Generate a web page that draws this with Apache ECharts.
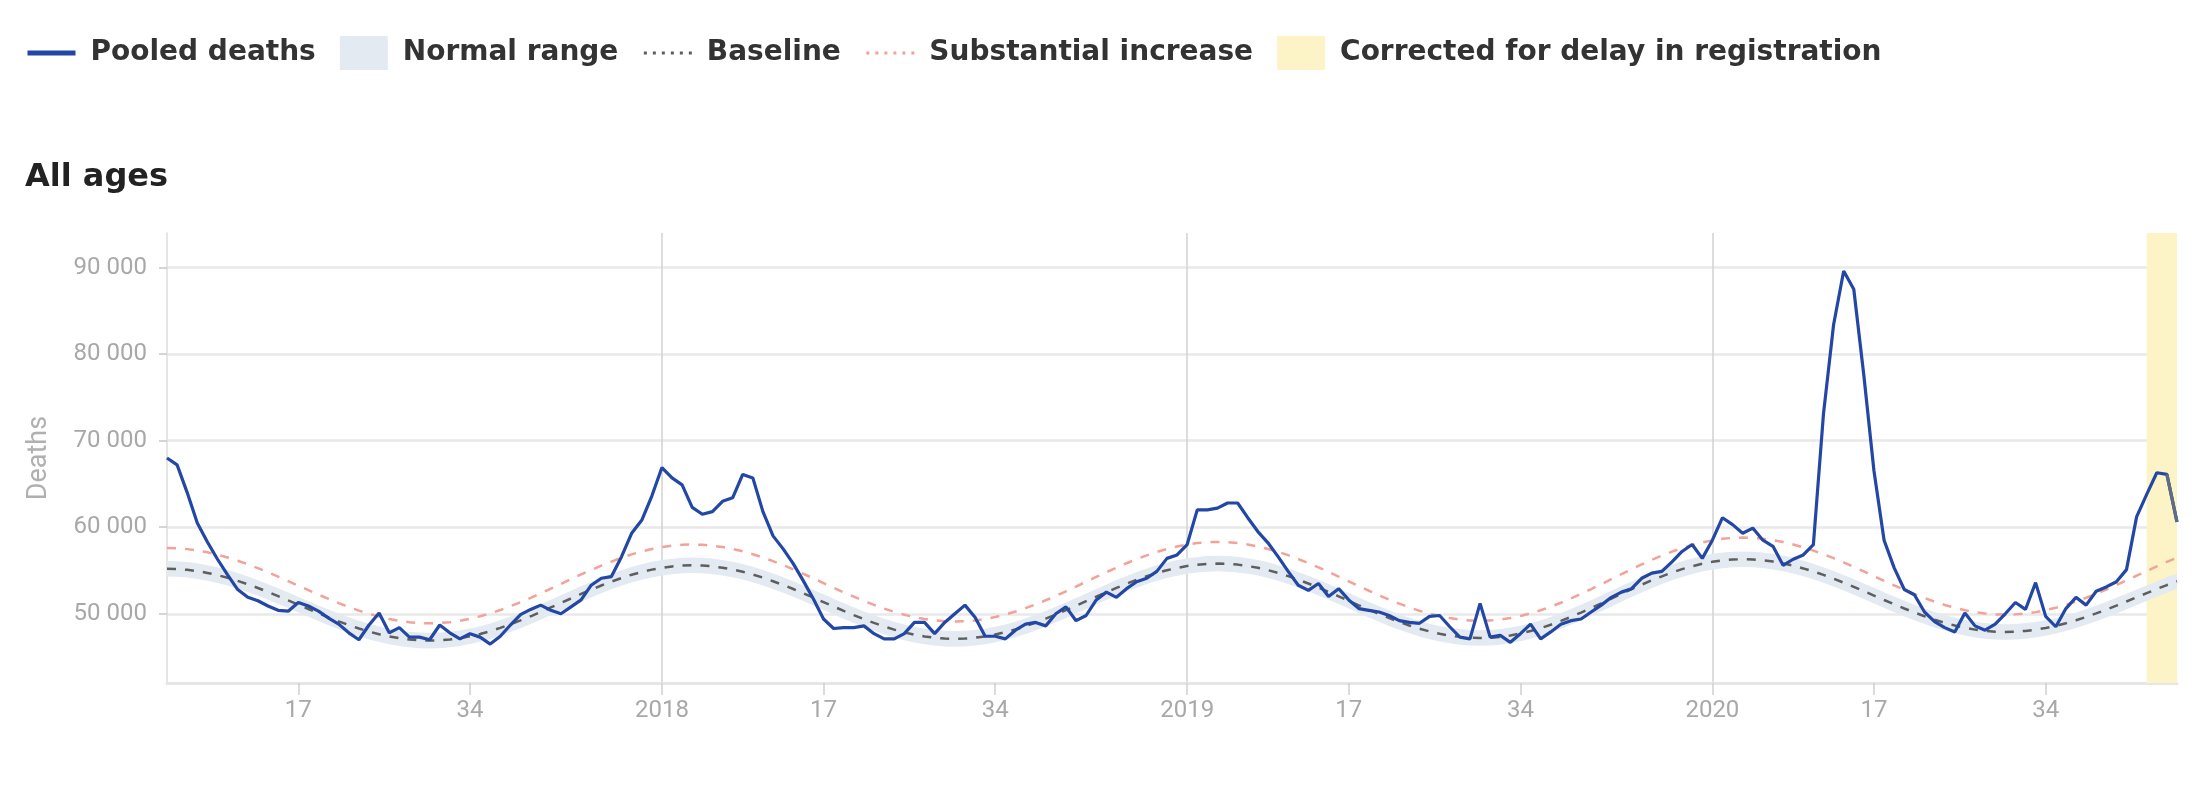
<!DOCTYPE html>
<html><head><meta charset="utf-8">
<script src="https://cdn.jsdelivr.net/npm/echarts@6/dist/echarts.min.js"></script>
<style>html,body{margin:0;padding:0;background:#fff}#c{width:2200px;height:796px}</style>
</head><body><div id="c"></div>
<script>
// ISO weeks shown: [year, first week, last week]
const yearWeeks = [[2017, 4, 52], [2018, 1, 52], [2019, 1, 52], [2020, 1, 47]];
const labelWeeks = [1, 17, 34];
const yTicks = [50000, 60000, 70000, 80000, 90000];
const correctedRange = ['2020-44', '2020-47'];
const tailStart = '2020-46';

// Pooled deaths
const deaths2017 = [68000, 67200, 64000, 60500, 58300, 56300, 54500, 52800, 51900, 51500, 50900, 50400, 50300, 51300, 50900, 50300, 49500, 48800, 47800, 47000, 48700, 50100, 47800, 48400, 47300, 47300, 47000, 48700, 47800, 47100, 47700, 47300, 46500, 47400, 48700, 49900, 50500, 51000, 50400, 50000, 50800, 51600, 53300, 54100, 54300, 56600, 59300, 60800, 63600];
const deaths2018 = [66900, 65700, 64900, 62300, 61500, 61800, 63000, 63400, 66100, 65700, 61800, 59000, 57500, 55800, 53800, 51700, 49400, 48300, 48400, 48400, 48600, 47700, 47100, 47100, 47700, 49000, 49000, 47700, 49000, 50000, 51000, 49600, 47400, 47400, 47100, 48100, 48800, 49000, 48600, 50000, 50800, 49200, 49800, 51600, 52500, 51900, 52900, 53700, 54100, 54900, 56400, 56800];
const deaths2019 = [58000, 62000, 62000, 62200, 62800, 62800, 61100, 59500, 58200, 56600, 54900, 53300, 52700, 53500, 52000, 52900, 51600, 50600, 50400, 50200, 49800, 49200, 49000, 48900, 49700, 49800, 48500, 47300, 47100, 51200, 47300, 47500, 46700, 47700, 48800, 47100, 47900, 48800, 49200, 49400, 50200, 51000, 51900, 52500, 52900, 54100, 54700, 54900, 56000, 57200, 58000, 56400];
const deaths2020 = [58500, 61100, 60300, 59300, 59900, 58500, 57800, 55600, 56300, 56800, 58000, 73100, 83400, 89600, 87500, 77500, 66500, 58500, 55300, 52800, 52200, 50200, 49100, 48400, 47900, 50100, 48600, 48100, 48800, 50000, 51300, 50500, 53600, 49700, 48500, 50600, 51900, 51000, 52600, 53100, 53700, 55100, 61200, 63800, 66300, 66100, 60600];

// Baseline
const baseline2017 = [55200, 55170, 55080, 54930, 54720, 54470, 54160, 53800, 53410, 52980, 52520, 52040, 51550, 51050, 50550, 50060, 49580, 49120, 48690, 48300, 47940, 47630, 47380, 47170, 47020, 46930, 46900, 46930, 47030, 47180, 47400, 47670, 47990, 48370, 48780, 49230, 49710, 50210, 50730, 51250, 51770, 52290, 52790, 53270, 53720, 54130, 54510, 54830, 55100];
const baseline2018 = [55320, 55470, 55570, 55600, 55570, 55480, 55320, 55110, 54850, 54530, 54170, 53760, 53330, 52860, 52370, 51860, 51350, 50840, 50330, 49840, 49370, 48940, 48530, 48170, 47850, 47590, 47380, 47220, 47130, 47100, 47130, 47230, 47380, 47600, 47870, 48190, 48570, 48980, 49430, 49910, 50410, 50930, 51450, 51970, 52490, 52990, 53470, 53920, 54330, 54710, 55030, 55300];
const baseline2019 = [55520, 55670, 55770, 55800, 55770, 55680, 55520, 55310, 55040, 54720, 54350, 53940, 53500, 53020, 52530, 52020, 51500, 50980, 50470, 49980, 49500, 49060, 48650, 48280, 47960, 47690, 47480, 47330, 47230, 47200, 47230, 47330, 47500, 47720, 48010, 48340, 48730, 49170, 49640, 50140, 50660, 51200, 51750, 52300, 52840, 53360, 53860, 54330, 54770, 55160, 55490, 55780];
const baseline2020 = [56000, 56170, 56270, 56300, 56270, 56180, 56030, 55820, 55560, 55240, 54890, 54490, 54050, 53590, 53110, 52610, 52100, 51590, 51090, 50610, 50150, 49710, 49310, 48960, 48640, 48380, 48170, 48020, 47930, 47900, 47930, 48020, 48160, 48360, 48610, 48910, 49250, 49630, 50040, 50480, 50940, 51420, 51900, 52380, 52860, 53320, 53760];

// Substantial increase threshold
const substantial2017 = [57600, 57570, 57470, 57320, 57100, 56830, 56510, 56130, 55720, 55270, 54790, 54290, 53770, 53250, 52730, 52210, 51710, 51230, 50780, 50370, 49990, 49670, 49400, 49180, 49030, 48930, 48900, 48930, 49030, 49200, 49420, 49710, 50040, 50430, 50870, 51340, 51840, 52360, 52900, 53450, 54000, 54540, 55060, 55560, 56030, 56470, 56860, 57190, 57480];
const substantial2018 = [57700, 57870, 57970, 58000, 57970, 57870, 57710, 57490, 57210, 56880, 56500, 56080, 55620, 55130, 54620, 54090, 53550, 53010, 52480, 51970, 51480, 51020, 50600, 50220, 49890, 49610, 49390, 49230, 49130, 49100, 49130, 49230, 49400, 49630, 49910, 50260, 50650, 51090, 51560, 52070, 52600, 53150, 53700, 54250, 54800, 55330, 55840, 56310, 56750, 57140, 57490, 57770];
const substantial2019 = [58000, 58170, 58270, 58300, 58270, 58170, 58000, 57780, 57490, 57160, 56770, 56330, 55860, 55360, 54840, 54300, 53750, 53200, 52660, 52140, 51630, 51170, 50730, 50340, 50010, 49720, 49500, 49330, 49230, 49200, 49230, 49340, 49510, 49750, 50050, 50410, 50820, 51270, 51770, 52300, 52850, 53420, 54000, 54580, 55150, 55700, 56230, 56730, 57180, 57590, 57950, 58250];
const substantial2020 = [58490, 58660, 58770, 58800, 58770, 58670, 58510, 58290, 58010, 57680, 57300, 56880, 56420, 55930, 55420, 54890, 54350, 53810, 53280, 52770, 52280, 51820, 51400, 51020, 50690, 50410, 50190, 50030, 49930, 49900, 49930, 50030, 50190, 50420, 50700, 51030, 51420, 51840, 52310, 52800, 53320, 53860, 54400, 54940, 55480, 55990, 56490];

// Normal range (lower / upper)
const rangeLow2017 = [54300, 54270, 54180, 54030, 53820, 53570, 53260, 52900, 52510, 52080, 51620, 51140, 50650, 50150, 49650, 49160, 48680, 48220, 47790, 47400, 47040, 46730, 46480, 46270, 46120, 46030, 46000, 46030, 46130, 46280, 46500, 46770, 47090, 47470, 47880, 48330, 48810, 49310, 49830, 50350, 50870, 51390, 51890, 52370, 52820, 53230, 53610, 53930, 54200];
const rangeLow2018 = [54420, 54570, 54670, 54700, 54670, 54580, 54420, 54210, 53950, 53630, 53270, 52860, 52430, 51960, 51470, 50960, 50450, 49940, 49430, 48940, 48470, 48040, 47630, 47270, 46950, 46690, 46480, 46320, 46230, 46200, 46230, 46330, 46480, 46700, 46970, 47290, 47670, 48080, 48530, 49010, 49510, 50030, 50550, 51070, 51590, 52090, 52570, 53020, 53430, 53810, 54130, 54400];
const rangeLow2019 = [54620, 54770, 54870, 54900, 54870, 54780, 54620, 54410, 54140, 53820, 53450, 53040, 52600, 52120, 51630, 51120, 50600, 50080, 49570, 49080, 48600, 48160, 47750, 47380, 47060, 46790, 46580, 46430, 46330, 46300, 46330, 46430, 46600, 46820, 47110, 47440, 47830, 48270, 48740, 49240, 49760, 50300, 50850, 51400, 51940, 52460, 52960, 53430, 53870, 54260, 54590, 54880];
const rangeLow2020 = [55100, 55270, 55370, 55400, 55370, 55280, 55130, 54920, 54660, 54340, 53990, 53590, 53150, 52690, 52210, 51710, 51200, 50690, 50190, 49710, 49250, 48810, 48410, 48060, 47740, 47480, 47270, 47120, 47030, 47000, 47030, 47120, 47260, 47460, 47710, 48010, 48350, 48730, 49140, 49580, 50040, 50520, 51000, 51480, 51960, 52420, 52860];
const rangeHigh2017 = [56100, 56070, 55980, 55830, 55620, 55370, 55060, 54700, 54310, 53880, 53420, 52940, 52450, 51950, 51450, 50960, 50480, 50020, 49590, 49200, 48840, 48530, 48280, 48070, 47920, 47830, 47800, 47830, 47930, 48080, 48300, 48570, 48890, 49270, 49680, 50130, 50610, 51110, 51630, 52150, 52670, 53190, 53690, 54170, 54620, 55030, 55410, 55730, 56000];
const rangeHigh2018 = [56220, 56370, 56470, 56500, 56470, 56380, 56220, 56010, 55750, 55430, 55070, 54660, 54230, 53760, 53270, 52760, 52250, 51740, 51230, 50740, 50270, 49840, 49430, 49070, 48750, 48490, 48280, 48120, 48030, 48000, 48030, 48130, 48280, 48500, 48770, 49090, 49470, 49880, 50330, 50810, 51310, 51830, 52350, 52870, 53390, 53890, 54370, 54820, 55230, 55610, 55930, 56200];
const rangeHigh2019 = [56420, 56570, 56670, 56700, 56670, 56580, 56420, 56210, 55940, 55620, 55250, 54840, 54400, 53920, 53430, 52920, 52400, 51880, 51370, 50880, 50400, 49960, 49550, 49180, 48860, 48590, 48380, 48230, 48130, 48100, 48130, 48230, 48400, 48620, 48910, 49240, 49630, 50070, 50540, 51040, 51560, 52100, 52650, 53200, 53740, 54260, 54760, 55230, 55670, 56060, 56390, 56680];
const rangeHigh2020 = [56900, 57070, 57170, 57200, 57170, 57080, 56930, 56720, 56460, 56140, 55790, 55390, 54950, 54490, 54010, 53510, 53000, 52490, 51990, 51510, 51050, 50610, 50210, 49860, 49540, 49280, 49070, 48920, 48830, 48800, 48830, 48920, 49060, 49260, 49510, 49810, 50150, 50530, 50940, 51380, 51840, 52320, 52800, 53280, 53760, 54220, 54660];

// ---- assemble ----
const categories = [];
yearWeeks.forEach(([y, w0, w1]) => { for (let w = w0; w <= w1; w++) categories.push(y + '-' + String(w).padStart(2, '0')); });
const deaths = [].concat(deaths2017, deaths2018, deaths2019, deaths2020);
const baseline = [].concat(baseline2017, baseline2018, baseline2019, baseline2020);
const substantial = [].concat(substantial2017, substantial2018, substantial2019, substantial2020);
const rangeLow = [].concat(rangeLow2017, rangeLow2018, rangeLow2019, rangeLow2020);
const rangeHigh = [].concat(rangeHigh2017, rangeHigh2018, rangeHigh2019, rangeHigh2020);
const rangeWidth = rangeHigh.map((v, i) => v - rangeLow[i]);
const tailIdx = categories.indexOf(tailStart);
const tail = deaths.map((v, i) => i >= tailIdx ? v : null);

const weekOf = c => +c.slice(5);
const isLabelWeek = (i, c) => labelWeeks.indexOf(weekOf(c)) >= 0;
const isYearStart = (i, c) => weekOf(c) === 1;
const fmtLabel = c => weekOf(c) === 1 ? c.slice(0, 4) : String(weekOf(c));
const fmtNum = v => String(v).replace(/\B(?=(\d{3})+(?!\d))/g, ' ');

const BLUE = '#2247a5', GREY = '#5e5e5e', RED = '#f2a298', BAND = '#e4eaf1', YELLOW = '#fcf4c6';
const tickFont = {fontFamily: 'Roboto', fontSize: 24, color: '#a8a8a8'};
const hidden = {opacity: 0};
const chart = echarts.init(document.getElementById('c'), null, {renderer: 'canvas'});
chart.setOption({
  animation: false,
  backgroundColor: '#ffffff',
  title: {text: 'All ages', left: 25, top: 162, padding: 0,
    textStyle: {fontFamily: 'DejaVu Sans', fontWeight: 'bold', fontSize: 32, color: '#222'}},
  legend: {
    left: 25, top: 36, padding: 0, itemWidth: 48, itemHeight: 34, itemGap: 24,
    textStyle: {fontFamily: 'DejaVu Sans', fontWeight: 'bold', fontSize: 28, color: '#333', padding: [0, 0, 0, 10]},
    data: [
      {name: 'Pooled deaths', itemStyle: hidden, lineStyle: {color: BLUE, width: 5, type: 'solid'}},
      {name: 'Normal range', icon: 'rect', itemStyle: {color: BAND}},
      {name: 'Baseline', itemStyle: hidden, lineStyle: {color: GREY, width: 3, type: [3, 6]}},
      {name: 'Substantial increase', itemStyle: hidden, lineStyle: {color: RED, width: 3, type: [3, 6]}},
      {name: 'Corrected for delay in registration', icon: 'rect', itemStyle: {color: YELLOW}}
    ]
  },
  grid: {left: 167, right: 23, top: 233, bottom: 113, containLabel: false},
  xAxis: {
    type: 'category', data: categories, boundaryGap: false,
    axisLine: {show: true, lineStyle: {color: '#e6e6e6', width: 3}},
    axisTick: {show: true, interval: isLabelWeek, length: 12, lineStyle: {color: '#cfcfcf', width: 1.5}},
    axisLabel: Object.assign({interval: isLabelWeek, formatter: fmtLabel, margin: 16}, tickFont),
    splitLine: {show: true, interval: isYearStart, lineStyle: {color: '#d2d2d2', width: 1.5}}
  },
  yAxis: {
    type: 'value', min: 42000, max: 94000,
    name: 'Deaths', nameLocation: 'middle', nameRotate: 90, nameGap: 114,
    nameTextStyle: {fontFamily: 'Roboto', fontSize: 27, color: '#b0b0b0'},
    axisLine: {show: true, lineStyle: {color: '#dcdcdc', width: 1.5}},
    axisTick: {show: true, length: 8, customValues: yTicks, lineStyle: {color: '#c8c8c8', width: 1.5}},
    axisLabel: Object.assign({customValues: yTicks, formatter: fmtNum, margin: 20}, tickFont),
    splitLine: {show: true, lineStyle: {color: '#e9e9e9', width: 2.5}}
  },
  series: [
    {name: 'rangeLow', type: 'line', data: rangeLow, stack: 'nr', symbol: 'none', silent: true,
      lineStyle: {opacity: 0}, z: 1},
    {name: 'Normal range', type: 'line', data: rangeWidth, stack: 'nr', symbol: 'none', silent: true,
      lineStyle: {opacity: 0}, itemStyle: {color: BAND}, areaStyle: {color: BAND, opacity: 1}, z: 1},
    {name: 'Corrected for delay in registration', type: 'line', data: categories.map(() => null), symbol: 'none',
      itemStyle: {color: YELLOW}, z: 0,
      markArea: {silent: true, itemStyle: {color: YELLOW}, data: [[{xAxis: correctedRange[0]}, {xAxis: correctedRange[1]}]]}},
    {name: 'Baseline', type: 'line', data: baseline, symbol: 'none', silent: true,
      lineStyle: {color: GREY, width: 2.5, type: [9, 9]}, itemStyle: {color: GREY}, z: 3},
    {name: 'Substantial increase', type: 'line', data: substantial, symbol: 'none', silent: true,
      lineStyle: {color: RED, width: 2.5, type: [9, 9]}, itemStyle: {color: RED}, z: 3},
    {name: 'Pooled deaths', type: 'line', data: deaths, symbol: 'none', silent: true,
      lineStyle: {color: BLUE, width: 3.2}, itemStyle: {color: BLUE}, z: 5},
    {name: 'tail', type: 'line', data: tail, symbol: 'none', silent: true,
      lineStyle: {color: '#5f6b80', width: 3.2}, itemStyle: {color: '#5f6b80'}, z: 6}
  ]
});
</script>
</body></html>
